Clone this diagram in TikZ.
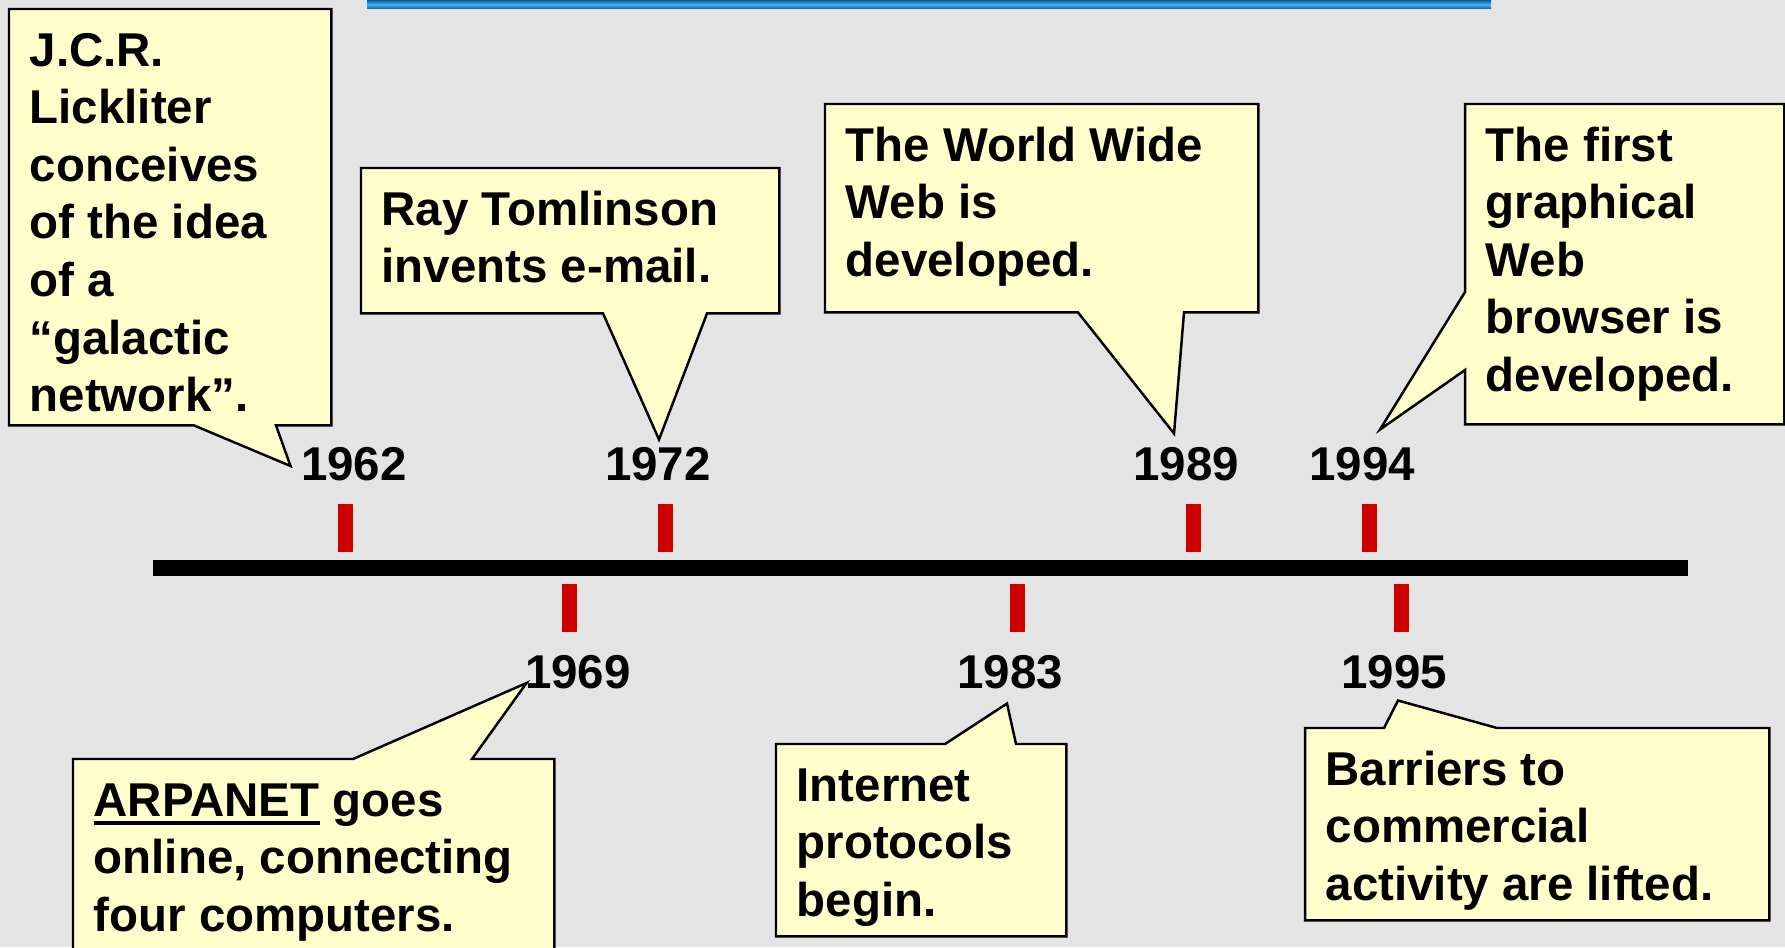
\documentclass[tikz,border=0pt]{standalone}
\usepackage{fontspec}
\setmainfont{Liberation Sans}
\usepackage{tikz}
\usetikzlibrary{positioning}
\pgfdeclarelayer{paper}
\pgfdeclarelayer{bubbles}
\pgfsetlayers{paper,bubbles,main}
\definecolor{paper}{RGB}{228,228,228}
\definecolor{notefill}{RGB}{255,255,204}
\definecolor{tickred}{RGB}{204,0,0}
\definecolor{bardark}{RGB}{8,88,158}
\definecolor{barlight}{RGB}{72,182,240}
\newcommand{\notetext}[3]{\parbox[t][#2][t]{#1}{\raggedright\strut #3}}
\newcommand{\thickul}[1]{{\setbox0\hbox{#1}\rlap{\rule[-2.6pt]{\wd0}{1.1pt}}\box0}}
\tikzset{
  note/.style={inner xsep=0.2cm, inner ysep=0.16cm, anchor=north west,
    font=\bfseries\fontsize{13.5}{16.4}\selectfont},
  bubble/.style={draw=black, line width=0.7pt, fill=notefill, line join=miter},
  year/.style={inner sep=0pt, font=\bfseries\fontsize{13.5}{16.4}\selectfont},
  tick/.style={draw=tickred, line width=0.15cm},
  axis/.style={draw=black, line width=0.16cm}
}
\begin{document}
\begin{tikzpicture}
    \useasboundingbox (0,0) rectangle (17.85,-9.47);
    \begin{pgfonlayer}{paper}
        \fill[paper] (0,0) rectangle (17.85,-9.47);
    \end{pgfonlayer}
    \shade[top color=bardark, bottom color=bardark, middle color=barlight] (3.67,0) rectangle (14.91,-0.09);

    \draw[axis] (1.53,-5.68) -- (16.88,-5.68);
    \foreach \x in {3.45,6.65,11.93,13.69}
        \draw[tick] (\x,-5.04) -- (\x,-5.52);
    \foreach \x in {5.69,10.17,14.01}
        \draw[tick] (\x,-5.84) -- (\x,-6.32);

    \node[year] (y1962) at (3.54,-4.64) {1962};
    \node[year] (y1972) at (6.58,-4.64) {1972};
    \node[year] (y1989) at (11.86,-4.64) {1989};
    \node[year] (y1994) at (13.62,-4.64) {1994};
    \node[year] (y1969) at (5.78,-6.72) {1969};
    \node[year] (y1983) at (10.10,-6.72) {1983};
    \node[year] (y1995) at (13.94,-6.72) {1995};

    \node[note] (lickliter) at (0.09,-0.09) {\notetext{2.81cm}{3.83cm}{J.C.R.\\Lickliter\\conceives\\of the idea\\of a\\“galactic\\network”.}};
    \node[note] (email) at (3.61,-1.68) {\notetext{3.77cm}{1.12cm}{Ray Tomlinson\\invents e-mail.}};
    \node[note] (www) at (8.25,-1.04) {\notetext{3.92cm}{1.75cm}{The World Wide\\Web is\\developed.}};
    \node[note] (browser) at (14.65,-1.04) {\notetext{2.78cm}{2.87cm}{The first\\graphical\\Web\\browser is\\developed.}};
    \node[note] (arpanet) at (0.73,-7.59) {\notetext{4.40cm}{1.60cm}{\thickul{ARPANET} goes\\online, connecting\\four computers.}};
    \node[note] (protocols) at (7.76,-7.44) {\notetext{2.49cm}{1.59cm}{Internet\\protocols\\begin.}};
    \node[note] (barriers) at (13.05,-7.28) {\notetext{4.23cm}{1.59cm}{Barriers to\\commercial\\activity are lifted.}};

    \begin{pgfonlayer}{bubbles}
        \draw[bubble] (lickliter.north west) -- (lickliter.north east) -- (lickliter.south east)
            -- ([xshift=2.67cm]lickliter.south west) -- ([shift={(-0.10,-0.02)}]y1962.west)
            -- ([xshift=1.85cm]lickliter.south west) -- (lickliter.south west) -- cycle;
        \draw[bubble] (email.north west) -- (email.north east) -- (email.south east)
            -- ([xshift=3.46cm]email.south west) -- ([shift={(0.01,0.07)}]y1972.north)
            -- ([xshift=2.42cm]email.south west) -- (email.south west) -- cycle;
        \draw[bubble] (www.north west) -- (www.north east) -- (www.south east)
            -- ([xshift=3.59cm]www.south west) -- ([shift={(-0.12,0.13)}]y1989.north)
            -- ([xshift=2.53cm]www.south west) -- (www.south west) -- cycle;
        \draw[bubble] (browser.north west) -- (browser.north east) -- (browser.south east)
            -- (browser.south west) -- ([yshift=-2.66cm]browser.north west)
            -- ([shift={(0.18,0.17)}]y1994.north) -- ([yshift=-1.88cm]browser.north west) -- cycle;
        \draw[bubble] (arpanet.south west) -- (arpanet.north west) -- ([xshift=2.80cm]arpanet.north west)
            -- ([shift={(0.02,-0.11)}]y1969.west) -- ([xshift=3.99cm]arpanet.north west)
            -- (arpanet.north east) -- (arpanet.south east) -- cycle;
        \draw[bubble] (protocols.south west) -- (protocols.north west) -- ([xshift=1.69cm]protocols.north west)
            -- ([shift={(-0.03,-0.14)}]y1983.south) -- ([xshift=2.40cm]protocols.north west)
            -- (protocols.north east) -- (protocols.south east) -- cycle;
        \draw[bubble] (barriers.south west) -- (barriers.north west) -- ([xshift=0.79cm]barriers.north west)
            -- ([shift={(0.04,-0.11)}]y1995.south) -- ([xshift=1.92cm]barriers.north west)
            -- (barriers.north east) -- (barriers.south east) -- cycle;
    \end{pgfonlayer}
\end{tikzpicture}
\end{document}
